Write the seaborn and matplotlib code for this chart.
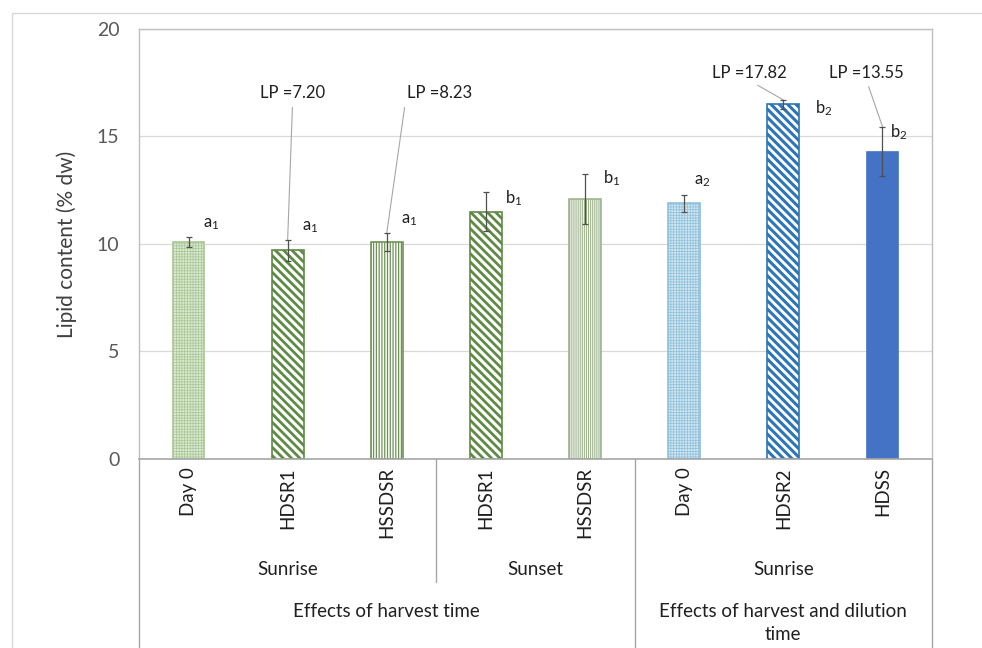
import numpy as np
import pandas as pd
import seaborn as sns
import matplotlib.pyplot as plt
from matplotlib.lines import Line2D

# data
tick_labels = ["Day 0", "HDSR1", "HSSDSR", "HDSR1", "HSSDSR", "Day 0", "HDSR2", "HDSS"]
lipid = [10.1, 9.7, 10.1, 11.5, 12.1, 11.9, 16.5, 14.3]
lipid_err = [0.23, 0.5, 0.42, 0.9, 1.17, 0.4, 0.2, 1.16]
letters = ["a$_1$", "a$_1$", "a$_1$", "b$_1$", "b$_1$", "a$_2$", "b$_2$", "b$_2$"]
harvest_groups = ["Sunrise", "Sunset", "Sunrise"]
harvest_sizes = [3, 2, 3]
effect_groups = ["Effects of harvest time", "Effects of harvest and dilution\ntime"]
effect_sizes = [5, 3]
lp_bars = [1, 2, 6, 7]
lp_values = ["7.20", "8.23", "17.82", "13.55"]

# styling for each bar (face, edge/hatch colour, hatch, hatch width)
faces = ["#dae8d0", "#ffffff", "#ffffff", "#ffffff", "#ffffff", "#cfe5f0", "#ffffff", "#4472c4"]
edges = ["#a9c796", "#5f8a45", "#6f9356", "#5f8a45", "#9fb38e", "#8fc0dc", "#2e75b6", "#4472c4"]
hatches = ["++++++", "\\\\\\\\", "||||||", "\\\\\\\\", "||||||||", "++++++", "\\\\\\\\", None]
hatch_lw = [0.5, 2.0, 0.9, 2.0, 0.8, 0.5, 2.2, 1.0]

sns.set_theme(style="white")
plt.rcParams["font.family"] = ["Lato", "DejaVu Sans"]
plt.rcParams["mathtext.fontset"] = "custom"
plt.rcParams["mathtext.rm"] = "Lato"
plt.rcParams["mathtext.it"] = "Lato"
plt.rcParams["hatch.linewidth"] = 1.0

df = pd.DataFrame({"bar": [str(i) for i in range(len(lipid))], "lipid": lipid})

fig = plt.figure(figsize=(9.82, 6.48), dpi=100)
ax = fig.add_axes([0.1415, 0.2917, 0.8076, 0.6636])

sns.barplot(data=df, x="bar", y="lipid", hue="bar", palette=faces, legend=False,
            width=0.32, errorbar=None, ax=ax)

for p, fc, ec, h, hl in zip(ax.patches, faces, edges, hatches, hatch_lw):
    p.set_facecolor(fc)
    p.set_edgecolor(ec)
    p.set_linewidth(1.2)
    if h:
        p.set_hatch(h)
        if hasattr(p, "set_hatch_linewidth"):
            p.set_hatch_linewidth(hl)

xpos = np.arange(len(lipid))
ax.errorbar(xpos, lipid, yerr=lipid_err, fmt="none", ecolor="#505050",
            elinewidth=0.9, capsize=2.5, capthick=0.9, zorder=5)

# significance letters (offsets in points)
letter_off = [(16, 9), (16, 9), (16, 9), (20, -4), (19, -3), (13, 10), (29, -6), (12, -4)]
for i, (lab, off) in enumerate(zip(letters, letter_off)):
    ax.annotate(lab, xy=(i, lipid[i] + lipid_err[i]), xytext=off, textcoords="offset points",
                ha="center", va="center", fontsize=12, color="#202020")

# LP callouts
lp_text_pos = [(1.05, 17.0, "center"), (2.2, 17.0, "left"), (5.66, 17.97, "center"), (6.84, 17.97, "center")]
for b, v, (tx, ty, ha) in zip(lp_bars, lp_values, lp_text_pos):
    rel = (0.0, 0.5) if ha == "left" else (0.5, 0.0)
    ax.annotate("LP =" + v, xy=(b, lipid[b] + lipid_err[b]), xytext=(tx, ty),
                ha=ha, va="center", fontsize=12, color="#202020",
                arrowprops=dict(arrowstyle="-", color="#a6a6a6", lw=0.8,
                                relpos=rel, shrinkA=2, shrinkB=0))

ax.set_ylim(0, 20)
ax.set_xlim(-0.5, len(lipid) - 0.5)
ax.set_yticks([0, 5, 10, 15, 20])
ax.yaxis.grid(True, color="#d9d9d9", linewidth=0.9)
ax.set_axisbelow(True)
ax.tick_params(axis="y", length=0, pad=14, labelsize=14, labelcolor="#595959")
ax.set_xticks(xpos)
ax.set_xticklabels(tick_labels, rotation=90, va="top", ha="center", fontsize=13.5, color="#202020")
ax.tick_params(axis="x", length=0, pad=6)
ax.set_xlabel("")
ax.set_ylabel("Lipid content (% dw)", fontsize=15, color="#404040", labelpad=14)

for s in ["left", "top", "right"]:
    ax.spines[s].set_color("#bfbfbf")
    ax.spines[s].set_linewidth(1.0)
ax.spines["bottom"].set_color("#a6a6a6")
ax.spines["bottom"].set_linewidth(1.2)

# multi-level category axis
trans = ax.get_xaxis_transform()
line_kw = dict(color="#a6a6a6", lw=1.0, transform=trans, clip_on=False)
ax.add_line(Line2D([-0.5, -0.5], [0, -0.45], **line_kw))
ax.add_line(Line2D([len(lipid) - 0.5] * 2, [0, -0.45], **line_kw))
start = -0.5
for name, n in zip(harvest_groups, harvest_sizes):
    ax.text(start + n / 2, -0.258, name, transform=trans, ha="center", va="center",
            fontsize=13.5, color="#202020")
    start += n
    if start < len(lipid) - 0.5:
        bottom = -0.45 if start == effect_sizes[0] - 0.5 else -0.286
        ax.add_line(Line2D([start, start], [0, bottom], **line_kw))
start = -0.5
for name, n in zip(effect_groups, effect_sizes):
    ax.text(start + n / 2, -0.335, name, transform=trans, ha="center", va="top",
            fontsize=13.5, color="#202020", linespacing=1.4)
    start += n

# light outer chart border
fig.add_artist(Line2D([0.012, 0.012], [0, 0.98], color="#d9d9d9", lw=1.0))
fig.add_artist(Line2D([0.012, 1.0], [0.98, 0.98], color="#d9d9d9", lw=1.0))

fig.savefig("out.png", dpi=100)
